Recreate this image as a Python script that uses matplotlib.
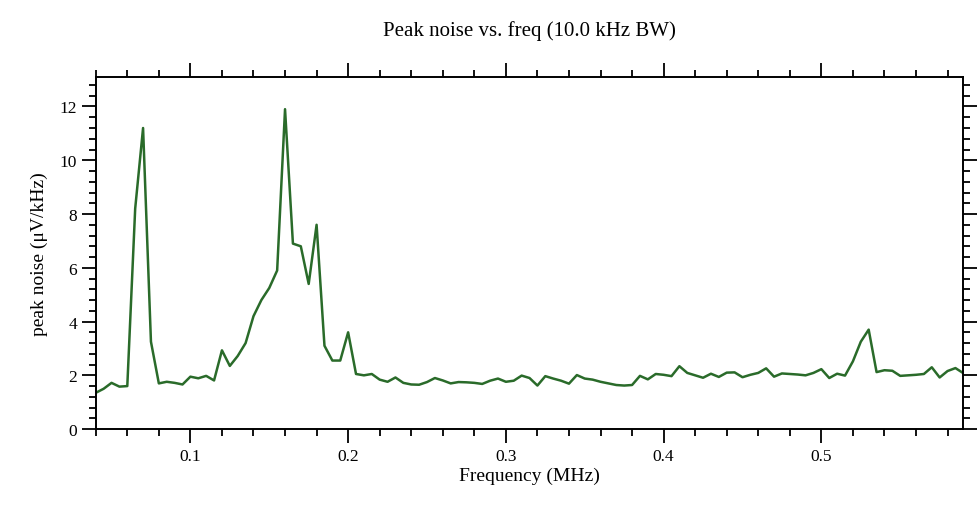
import numpy as np
import matplotlib.pyplot as plt
from matplotlib.ticker import MultipleLocator

# frequency sweep points (kHz) and measured peak noise (uV/kHz)
FREQ_KHZ = [
    40, 45, 50, 55, 60, 65, 70, 75, 80, 85,
    90, 95, 100, 105, 110, 115, 120, 125, 130, 135,
    140, 145, 150, 155, 160, 165, 170, 175, 180, 185,
    190, 195, 200, 205, 210, 215, 220, 225, 230, 235,
    240, 245, 250, 255, 260, 265, 270, 275, 280, 285,
    290, 295, 300, 305, 310, 315, 320, 325, 330, 335,
    340, 345, 350, 355, 360, 365, 370, 375, 380, 385,
    390, 395, 400, 405, 410, 415, 420, 425, 430, 435,
    440, 445, 450, 455, 460, 465, 470, 475, 480, 485,
    490, 495, 500, 505, 510, 515, 520, 525, 530, 535,
    540, 545, 550, 555, 560, 565, 570, 575, 580, 585,
    590,
]
PEAK_NOISE = [
    1.35, 1.50, 1.72, 1.58, 1.60, 8.20, 11.2, 3.25, 1.70, 1.76,
    1.72, 1.66, 1.95, 1.89, 1.98, 1.81, 2.93, 2.35, 2.72, 3.20,
    4.20, 4.80, 5.25, 5.90, 11.9, 6.90, 6.80, 5.40, 7.60, 3.10,
    2.55, 2.55, 3.60, 2.05, 2.00, 2.05, 1.84, 1.76, 1.92, 1.72,
    1.66, 1.65, 1.75, 1.90, 1.81, 1.70, 1.75, 1.74, 1.72, 1.68,
    1.80, 1.88, 1.76, 1.80, 1.99, 1.90, 1.62, 1.97, 1.88, 1.80,
    1.69, 2.01, 1.88, 1.84, 1.76, 1.70, 1.64, 1.62, 1.64, 1.98,
    1.85, 2.05, 2.02, 1.97, 2.34, 2.09, 2.00, 1.91, 2.06, 1.94,
    2.10, 2.11, 1.93, 2.02, 2.09, 2.26, 1.95, 2.07, 2.05, 2.03,
    2.00, 2.09, 2.23, 1.90, 2.06, 1.99, 2.52, 3.25, 3.70, 2.12,
    2.19, 2.17, 1.98, 2.00, 2.02, 2.05, 2.30, 1.92, 2.16, 2.27,
    2.08,
]

plt.rcParams["font.family"] = ["Liberation Serif", "DejaVu Serif"]

freq = np.array(FREQ_KHZ) / 1000.0
noise = np.array(PEAK_NOISE)

fig = plt.figure(figsize=(9.77, 5.06), dpi=100)
ax = fig.add_axes([0.098, 0.150, 0.888, 0.696])

ax.plot(freq, noise, color="#2a6b2a", lw=1.8)

ax.set_xlim(0.04, 0.59)
ax.set_ylim(0, 13.1)
ax.xaxis.set_major_locator(MultipleLocator(0.1))
ax.xaxis.set_minor_locator(MultipleLocator(0.02))
ax.yaxis.set_major_locator(MultipleLocator(2))
ax.yaxis.set_minor_locator(MultipleLocator(0.4))
ax.tick_params(which="both", direction="out", top=True, right=True,
               width=1.3, labelsize=12.5)
ax.tick_params(which="major", length=10)
ax.tick_params(which="minor", length=5)
ax.set_xticklabels([f"{t:.1f}" if t > 0.05 else "" for t in ax.get_xticks()])
for s in ax.spines.values():
    s.set_linewidth(1.4)

ax.set_title("Peak noise vs. freq (10.0 kHz BW)", fontsize=15, pad=30)
ax.set_xlabel("Frequency (MHz)", fontsize=14, labelpad=2)
ax.set_ylabel("peak noise (\u03bcV/kHz)", fontsize=14, labelpad=8)

fig.savefig("out.png", dpi=100)
